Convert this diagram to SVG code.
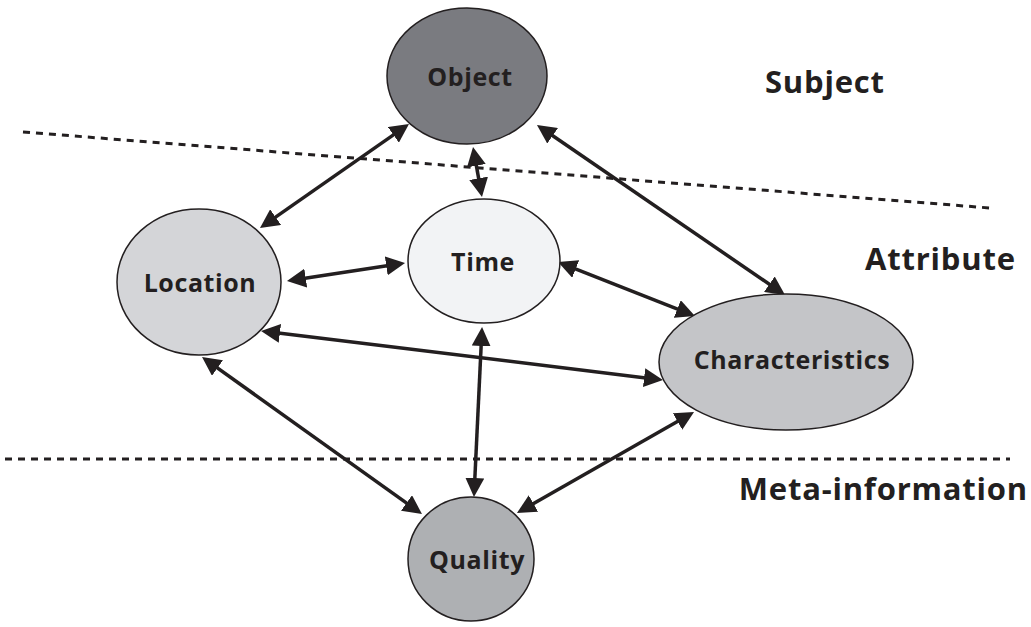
<svg xmlns="http://www.w3.org/2000/svg" width="1031" height="627" viewBox="0 0 1031 627">
<style>
.node{stroke:#231f20;stroke-width:1.5}
.lbl{font-family:"Open Sans","Liberation Sans",sans-serif;font-weight:bold;font-size:25px;letter-spacing:0.6px;fill:#231f20;text-anchor:middle}
.zone{font-family:"Open Sans","Liberation Sans",sans-serif;font-weight:bold;font-size:31px;letter-spacing:0.8px;fill:#231f20}
.dash{stroke:#231f20;stroke-width:3;fill:none;stroke-dasharray:7 6}
.conn{stroke:#231f20;stroke-width:3.5;fill:none;marker-start:url(#ah);marker-end:url(#ah)}
</style>
<defs>
<marker id="ah" viewBox="0 0 19 19" refX="14" refY="9.5" markerWidth="19" markerHeight="19" markerUnits="userSpaceOnUse" orient="auto-start-reverse">
<path d="M0,0 L19,9.5 L0,19 z" fill="#231f20"/>
</marker>
</defs>
<rect width="1031" height="627" fill="#ffffff"/>
<g id="separators">
<line class="dash" x1="23" y1="132" x2="990" y2="208"/>
<line class="dash" x1="5" y1="459" x2="1010" y2="459" stroke-dasharray="6 5"/>
</g>
<g id="connectors">
<line class="conn" x1="404.9" y1="126.9" x2="264.1" y2="225.1"/>
<line class="conn" x1="473.9" y1="151.9" x2="481.1" y2="192.1"/>
<line class="conn" x1="541.1" y1="127.8" x2="780.9" y2="292.2"/>
<line class="conn" x1="291.9" y1="280.2" x2="400.1" y2="263.8"/>
<line class="conn" x1="562.7" y1="263.8" x2="690.3" y2="314.2"/>
<line class="conn" x1="266" y1="331.6" x2="658" y2="379.4"/>
<line class="conn" x1="206.1" y1="359.9" x2="417.9" y2="511.1"/>
<line class="conn" x1="481.8" y1="332" x2="474.2" y2="492"/>
<line class="conn" x1="689.7" y1="414.5" x2="521.3" y2="510.5"/>
</g>
<g id="object">
<ellipse class="node" cx="467" cy="76" rx="80" ry="68" fill="#7a7b80"/>
<text class="lbl" x="470" y="86">Object</text>
</g>
<g id="time">
<ellipse class="node" cx="484" cy="261" rx="76" ry="62" fill="#f2f3f5"/>
<text class="lbl" x="483" y="271">Time</text>
</g>
<g id="location">
<ellipse class="node" cx="199" cy="282" rx="82" ry="73" fill="#d4d5d8"/>
<text class="lbl" x="200" y="292">Location</text>
</g>
<g id="characteristics">
<ellipse class="node" cx="786" cy="362" rx="127" ry="68" fill="#c4c5c8"/>
<text class="lbl" x="792" y="369">Characteristics</text>
</g>
<g id="quality">
<ellipse class="node" cx="471" cy="559" rx="63" ry="62" fill="#aeb0b3"/>
<text class="lbl" x="477" y="569">Quality</text>
</g>
<g id="zones">
<text class="zone" x="765" y="93">Subject</text>
<text class="zone" x="865" y="270">Attribute</text>
<text class="zone" x="1028" y="500" text-anchor="end" font-size="29">Meta-information</text>
</g>
</svg>
